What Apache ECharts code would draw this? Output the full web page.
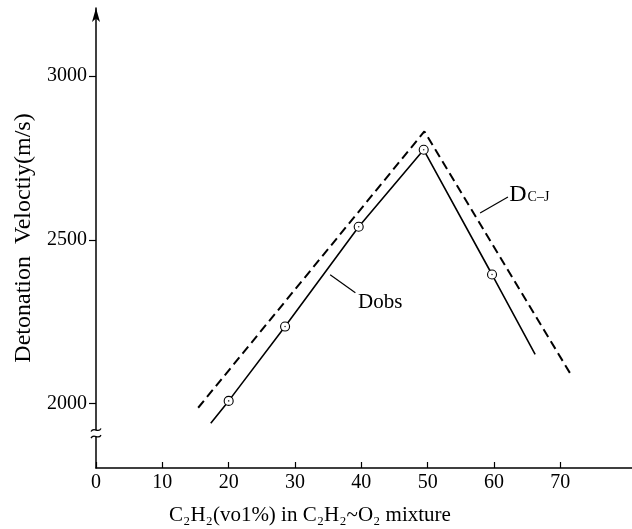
<!DOCTYPE html>
<html>
<head>
<meta charset="utf-8">
<script src="https://cdn.jsdelivr.net/npm/echarts@6/dist/echarts.min.js"></script>
<style>
  html, body { margin: 0; padding: 0; background: #fff; }
  #chart { width: 632px; height: 529px; }
</style>
</head>
<body>
<div id="chart"></div>
<script>
// Tick values shown on each axis
const xTicks = [0, 10, 20, 30, 40, 50, 60, 70];
const yTicks = [2000, 2500, 3000];

// Observed detonation velocity (solid line) and measured points on it
const dobsLine = [[17.3, 1940], [20, 2008], [28.5, 2235], [39.6, 2540], [49.4, 2775], [59.7, 2394], [66.2, 2150]];
const dobsPoints = [[20, 2008], [28.5, 2235], [39.6, 2540], [49.4, 2775], [59.7, 2394]];

// Chapman-Jouguet velocity (dashed line)
const dcjLine = [[15.4, 1987], [49.5, 2831], [71.6, 2088]];

const FONT = '"Liberation Serif", "DejaVu Serif", serif';
const chart = echarts.init(document.getElementById('chart'), null, { renderer: 'canvas' });

const option = {
  backgroundColor: '#fff',
  animation: false,
  grid: { left: 96, right: 0, top: 8, bottom: 61, containLabel: false, outerBoundsMode: 'none' },
  xAxis: {
    type: 'value', min: 0, max: 80.8, interval: 10,
    name: 'C\u2082H\u2082(vo1%) in C\u2082H\u2082~O\u2082 mixture',
    nameLocation: 'middle', nameGap: 37,
    nameTextStyle: { color: '#000', fontSize: 21, fontFamily: FONT, padding: [0, 108, 0, 0] },
    axisLine: { lineStyle: { color: '#000', width: 1.5 } },
    axisTick: { inside: true, length: 6, lineStyle: { color: '#000', width: 1.2 }, customValues: xTicks },
    axisLabel: { color: '#000', fontSize: 20, fontFamily: FONT, margin: 5, customValues: xTicks },
    splitLine: { show: false }
  },
  yAxis: {
    type: 'value', min: 1803, max: 3208,
    name: 'Detonation  Veloctiy(m/s)',
    nameLocation: 'middle', nameGap: 60, nameRotate: 90,
    nameTextStyle: { color: '#000', fontSize: 24, fontFamily: FONT },
    axisLine: { symbol: ['none', 'arrow'], symbolSize: [6, 14], lineStyle: { color: '#000', width: 1.5 } },
    axisTick: { inside: false, length: 7, lineStyle: { color: '#000', width: 1.2 }, customValues: yTicks },
    axisLabel: {
      color: '#000', fontSize: 20, fontFamily: FONT, margin: 9, customValues: yTicks,
      formatter: (v) => String(v)
    },
    splitLine: { show: false }
  },
  series: [
    {
      name: 'DC-J', type: 'line', data: dcjLine, symbol: 'none', z: 2,
      lineStyle: { color: '#000', width: 2, type: [9, 5] },
      markLine: {
        silent: true, symbol: 'none', label: { show: false },
        lineStyle: { color: '#000', width: 1.2, type: 'solid' },
        data: [[{ coord: [57.9, 2582] }, { coord: [62.1, 2631] }]]
      }
    },
    {
      name: 'Dobs', type: 'line', data: dobsLine, symbol: 'none', z: 2,
      lineStyle: { color: '#000', width: 1.6 },
      markLine: {
        silent: true, symbol: 'none', label: { show: false },
        lineStyle: { color: '#000', width: 1.2, type: 'solid' },
        data: [[{ coord: [35.3, 2393] }, { coord: [39.1, 2338] }]]
      }
    },
    {
      name: 'measured', type: 'scatter', data: dobsPoints, symbol: 'circle', symbolSize: 9, z: 3,
      itemStyle: { color: '#fff', borderColor: '#000', borderWidth: 1.1, opacity: 1 }
    },
    {
      name: 'centre', type: 'scatter', data: dobsPoints, symbol: 'circle', symbolSize: 1.6, z: 4,
      itemStyle: { color: '#000' }
    }
  ]
};
chart.setOption(option);

// Series labels and the axis-break mark, placed from data coordinates
const px = (x, y) => chart.convertToPixel({ gridIndex: 0 }, [x, y]);
const pDobs = px(39.5, 2310);
const pDcj = px(62.3, 2641);
const bTop = px(0, 1919);
const bBot = px(0, 1899);
const ax = bTop[0];

function wiggle(y) {
  return {
    type: 'bezierCurve', z: 10,
    shape: { x1: ax - 5, y1: y + 1.5, cpx1: ax - 2, cpy1: y - 4, cpx2: ax + 2, cpy2: y + 4, x2: ax + 5, y2: y - 1.5 },
    style: { stroke: '#000', lineWidth: 1.3, fill: null }
  };
}

chart.setOption({
  graphic: [
    {
      type: 'text', z: 10, x: pDobs[0], y: pDobs[1],
      style: { text: 'Dobs', fill: '#000', font: '21px ' + FONT, verticalAlign: 'middle', align: 'left' }
    },
    {
      type: 'text', z: 10, x: pDcj[0], y: pDcj[1],
      style: {
        text: '{a|D}{b|C\u2013J}', verticalAlign: 'middle', align: 'left',
        rich: {
          a: { fontSize: 24, fontFamily: FONT, fill: '#000', lineHeight: 26, verticalAlign: 'bottom' },
          b: { fontSize: 14, fontFamily: FONT, fill: '#000', lineHeight: 26, verticalAlign: 'bottom', padding: [0, 0, 2, 1] }
        }
      }
    },
    {
      type: 'rect', z: 9,
      shape: { x: ax - 3, y: bTop[1], width: 6, height: bBot[1] - bTop[1] },
      style: { fill: '#fff', stroke: null }
    },
    wiggle(bTop[1]),
    wiggle(bBot[1])
  ]
});
</script>
</body>
</html>
